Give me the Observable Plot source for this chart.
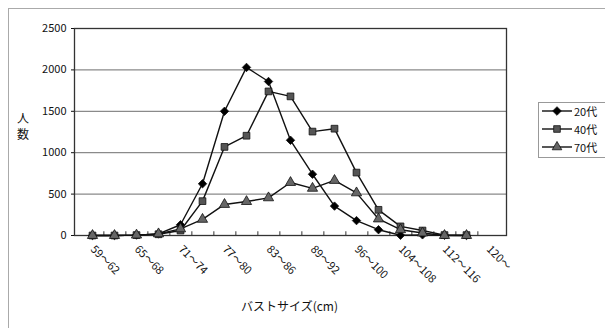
<!DOCTYPE html>
<html><head><meta charset="utf-8">
<script src="https://cdn.jsdelivr.net/npm/d3@7"></script>
<script src="https://cdn.jsdelivr.net/npm/@observablehq/plot@0.6"></script>
<style>
body{margin:0;background:#fff;font-family:"Noto Sans CJK JP","Noto Sans",sans-serif;color:#111;}
#wrap{position:relative;width:605px;height:328px;overflow:hidden;}
#border{position:absolute;left:8px;top:8px;width:640px;height:360px;border:1px solid #aaa;}
#chart{position:absolute;left:0;top:0;}
.yt{position:absolute;left:16px;font-size:12px;line-height:13px;width:14px;text-align:center;}
#xtitle{position:absolute;left:241px;top:297px;font-size:12px;white-space:nowrap;}
#legend{position:absolute;left:538px;top:102px;width:80px;height:54px;border:1px solid #999;background:#fff;}
.li{position:absolute;left:3px;height:14px;font-size:11px;line-height:14px;display:flex;align-items:center;}
.li svg{margin-right:2px;}
</style></head>
<body><div id="wrap"><div id="border"></div><div id="chart"></div>
<div class="yt" style="top:111px">人</div><div class="yt" style="top:127px">数</div>
<div id="xtitle">バストサイズ(cm)</div><div id="legend"></div></div>
<script>
const categories = ["59～62","62～65","65～68","68～71","71～74","74～77","77～80","80～83","83～86","86～89","89～92","92～96","96～100","100～104","104～108","108～112","112～116","116～120","120～"];
const tickLabels = categories.filter((d, i) => i % 2 === 0);
const series = ["20代", "40代", "70代"];
const v20 = [0, 0, 5, 20, 130, 625, 1500, 2030, 1860, 1150, 740, 355, 180, 70, 3, 8, 2, 0];
const v40 = [0, 0, 5, 15, 60, 415, 1070, 1205, 1740, 1680, 1255, 1290, 760, 310, 110, 60, 5, 5];
const v70 = [0, 0, 5, 20, 80, 195, 375, 410, 455, 640, 570, 665, 515, 200, 70, 30, 0, 0];
const yTicks = [0, 500, 1000, 1500, 2000, 2500];
const gridLines = [500, 1000, 1500, 2000];
const symbols = ["diamond2", "square", "triangle"];
const fills = ["#000", "#555", "#666"];

const data = [];
[v20, v40, v70].forEach((vals, si) => vals.forEach((v, i) => data.push({cat: categories[i], value: v, series: series[si]})));

const W = 530, ML = 74, MR = 24;
const step = (W - ML - MR) / categories.length;
const font = '"Noto Sans CJK JP","Noto Sans",sans-serif';

const plot = Plot.plot({
  width: W, height: 328, marginLeft: ML, marginRight: MR, marginTop: 28, marginBottom: 93,
  style: {fontFamily: font, fontSize: "11px", color: "#111", background: "transparent", overflow: "visible"},
  x: {type: "point", domain: categories, padding: 0.5, align: 0.5},
  y: {domain: [0, 2500]},
  symbol: {domain: series, range: symbols},
  color: {domain: series, range: fills},
  marks: [
    Plot.ruleY(gridLines, {stroke: "#8a8a8a", strokeWidth: 1.3}),
    Plot.ruleX(categories.slice(0, -1), {x: d => d, dx: step / 2, y1: 0, y2: 45, stroke: "#333"}),
    Plot.frame({stroke: "#333", strokeWidth: 1.3}),
    Plot.line(data, {x: "cat", y: "value", z: "series", stroke: "#111", strokeWidth: 1.4}),
    Plot.dot(data, {x: "cat", y: "value", symbol: "series", fill: "series", stroke: "#111", strokeWidth: 0.8, r: 3.8}),
    Plot.axisY({ticks: yTicks, tickFormat: d3.format("d"), tickSize: 3, tickPadding: 5, label: null, fontSize: "11px"}),
    Plot.axisX({ticks: tickLabels, tickSize: 0, tickPadding: 12, tickRotate: 45, label: null, fontSize: "11px"})
  ]
});
document.getElementById("chart").appendChild(plot);

// legend
const leg = document.getElementById("legend");
const symPaths = {
  diamond2: d3.symbol(d3.symbolDiamond2, 48)(),
  square: d3.symbol(d3.symbolSquare, 44)(),
  triangle: d3.symbol(d3.symbolTriangle, 40)()
};
series.forEach((s, i) => {
  const el = document.createElement("div");
  el.className = "li";
  el.style.top = (1 + i * 18) + "px";
  el.innerHTML = `<svg width="30" height="12"><line x1="0" x2="30" y1="6" y2="6" stroke="#111" stroke-width="1.4"/><path transform="translate(15,6)" d="${symPaths[symbols[i]]}" fill="${fills[i]}" stroke="#111" stroke-width="0.8"/></svg><span>${s}</span>`;
  leg.appendChild(el);
});
</script>
</body></html>
